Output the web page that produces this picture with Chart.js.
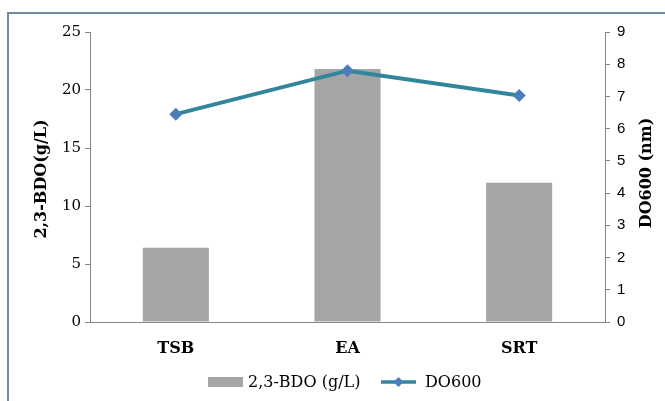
<!DOCTYPE html>
<html>
<head>
<meta charset="utf-8">
<script src="https://cdn.jsdelivr.net/npm/chart.js@4/dist/chart.umd.min.js"></script>
<style>
  html, body { margin: 0; padding: 0; background: #ffffff; }
  #wrap { position: relative; width: 665px; height: 401px; overflow: hidden; }
  #frame { position: absolute; left: 7px; top: 12px; width: 700px; height: 440px;
           border: 2px solid #6a8f99; box-sizing: border-box; pointer-events: none; }
  canvas { position: absolute; left: 0; top: 0; }
</style>
</head>
<body>
<div id="wrap">
  <canvas id="c" width="665" height="401"></canvas>
  <div id="frame"></div>
</div>
<script>
// Culture media and measured results
const categories = ['TSB', 'EA', 'SRT'];
const bdoValues = [6.4, 21.8, 12.0];     // 2,3-BDO titre, g/L
const do600Values = [6.45, 7.8, 7.03];   // optical density at 600
const leftTicks = { min: 0, max: 25, step: 5 };
const rightTicks = { min: 0, max: 9, step: 1 };
const leftTitle = '2,3-BDO(g/L)';
const rightTitle = 'DO600 (nm)';

const AXIS_GREY = '#868686';
const SERIF = "'DejaVu Serif', 'Liberation Serif', serif";
const SANS = "'Liberation Sans', 'Open Sans', sans-serif";

// Both axis titles read bottom-to-top, drawn beside their scales
const axisTitles = {
  id: 'axisTitles',
  afterDraw(chart) {
    const ctx = chart.ctx;
    const area = chart.chartArea;
    const cy = (area.top + area.bottom) / 2;
    ctx.save();
    ctx.font = 'bold 16px ' + SERIF;
    ctx.fillStyle = '#000';
    ctx.textAlign = 'center';
    ctx.textBaseline = 'middle';
    [[42, cy + 2, leftTitle], [647, cy - 4, rightTitle]].forEach(([x, y, t]) => {
      ctx.save();
      ctx.translate(x, y);
      ctx.rotate(-Math.PI / 2);
      ctx.fillText(t, 0, 0);
      ctx.restore();
    });
    ctx.restore();
  }
};

// Legend under the axis: grey swatch for the bars, line + diamond for DO600
const bottomLegend = {
  id: 'bottomLegend',
  afterDraw(chart) {
    const ctx = chart.ctx;
    const ds = chart.data.datasets;
    const bar = ds.find(d => d.type === 'bar');
    const line = ds.find(d => d.type === 'line');
    const y = 382;
    ctx.save();
    ctx.font = '16px ' + SERIF;
    ctx.textBaseline = 'middle';
    ctx.fillStyle = bar.backgroundColor;
    ctx.fillRect(208, y - 5, 35, 10);
    ctx.fillStyle = '#000';
    ctx.fillText(bar.label, 248, y + 1);
    ctx.strokeStyle = line.borderColor;
    ctx.lineWidth = 3.5;
    ctx.beginPath();
    ctx.moveTo(381, y);
    ctx.lineTo(416, y);
    ctx.stroke();
    ctx.fillStyle = line.pointBackgroundColor;
    ctx.beginPath();
    ctx.moveTo(398.5, y - 5);
    ctx.lineTo(403.5, y);
    ctx.lineTo(398.5, y + 5);
    ctx.lineTo(393.5, y);
    ctx.closePath();
    ctx.fill();
    ctx.fillStyle = '#000';
    ctx.fillText(line.label, 425, y + 1);
    ctx.restore();
  }
};

new Chart(document.getElementById('c'), {
  data: {
    labels: categories,
    datasets: [
      {
        type: 'line',
        label: 'DO600',
        data: do600Values,
        yAxisID: 'y2',
        borderColor: '#31869c',
        borderWidth: 4,
        pointStyle: 'rectRot',
        pointRadius: 6.5,
        pointBackgroundColor: '#4a7ebb',
        pointBorderColor: '#4a7ebb',
        pointBorderWidth: 0,
        tension: 0,
        order: 0
      },
      {
        type: 'bar',
        label: '2,3-BDO (g/L)',
        data: bdoValues,
        yAxisID: 'y',
        backgroundColor: '#a5a5a5',
        barPercentage: 0.385,
        categoryPercentage: 1,
        order: 1
      }
    ]
  },
  plugins: [axisTitles, bottomLegend],
  options: {
    responsive: false,
    animation: false,
    layout: { padding: { top: 32, left: 0, right: 0, bottom: 0 } },
    plugins: { legend: { display: false }, tooltip: { enabled: false } },
    scales: {
      x: {
        type: 'category',
        grid: { display: false },
        border: { display: true, color: AXIS_GREY, width: 1 },
        ticks: { color: '#000', padding: 9, font: { family: SERIF, size: 16, weight: 'bold' } },
        afterFit(s) { s.height = 79; }
      },
      y: {
        type: 'linear',
        position: 'left',
        min: leftTicks.min, max: leftTicks.max,
        ticks: { stepSize: leftTicks.step, color: '#000', padding: 4,
                 font: { family: SERIF, size: 15 } },
        grid: { drawOnChartArea: false, tickLength: 5, color: AXIS_GREY },
        border: { color: AXIS_GREY },
        afterFit(s) { s.width = 90; }
      },
      y2: {
        type: 'linear',
        position: 'right',
        min: rightTicks.min, max: rightTicks.max,
        ticks: { stepSize: rightTicks.step, color: '#000', padding: 7,
                 font: { family: SANS, size: 15 } },
        grid: { drawOnChartArea: false, tickLength: 5, color: AXIS_GREY },
        border: { color: AXIS_GREY },
        afterFit(s) { s.width = 60; }
      }
    }
  }
});
</script>
</body>
</html>
